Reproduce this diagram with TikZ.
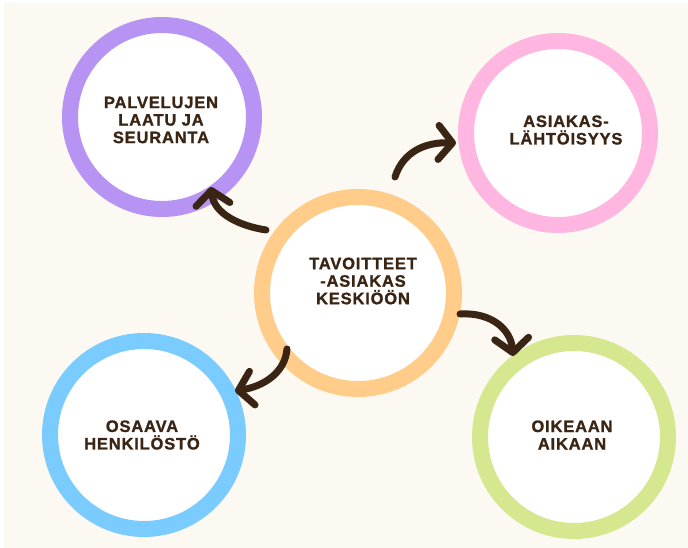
\documentclass[tikz,border=0pt]{standalone}
\usepackage{fontspec}
\setmainfont{Liberation Sans}[LetterSpace=5, BoldFeatures={FakeBold=1.2}]
\usetikzlibrary{arrows.meta}
\definecolor{bgcream}{HTML}{FCF9F2}
\definecolor{inkbrown}{HTML}{3A2413}
\definecolor{ringpurple}{HTML}{B794F4}
\definecolor{ringpink}{HTML}{FFB6E1}
\definecolor{ringorange}{HTML}{FFCC8A}
\definecolor{ringblue}{HTML}{7ACCFF}
\definecolor{ringgreen}{HTML}{D5E78F}
\tikzset{
  ring/.style={circle, draw=#1, line width=16pt, fill=white, inner sep=0pt},
  label/.style={align=center, text=inkbrown, font=\bfseries\fontsize{16.5}{17.5}\selectfont},
  curvearrow/.style={draw=inkbrown, line width=7pt, line cap=round, line join=round,
    -{Straight Barb[length=14pt, width=34pt, line cap=round, line join=round]}}
}
\begin{document}
\begin{tikzpicture}[x=1pt, y=-1pt]
  % page and cream backdrop
  \fill[white] (0,0) rectangle (688,548);
  \fill[bgcream] (4,3) rectangle (688,548);
  \useasboundingbox (0,0) rectangle (688,548);

  % the five rings
  \node[ring=ringpurple, minimum size=184pt] (quality) at (162,117) {};
  \node[ring=ringpink,   minimum size=184pt] (client)  at (558,133) {};
  \node[ring=ringorange, minimum size=192pt] (goal)    at (358,293) {};
  \node[ring=ringblue,   minimum size=188pt] (staff)   at (144,435) {};
  \node[ring=ringgreen,  minimum size=188pt] (timing)  at (574,437) {};

  % ring texts
  \node[label] at (161,120) {PALVELUJEN\\LAATU JA\\SEURANTA};
  \node[label] at (566,130) {ASIAKAS-\\LÄHTÖISYYS};
  \node[label] at (363,281) {TAVOITTEET\\-ASIAKAS\\KESKIÖÖN};
  \node[label] at (142,435) {OSAAVA\\HENKILÖSTÖ};
  \node[label] at (572,435) {OIKEAAN\\AIKAAN};

  % curved arrows from the centre ring to the outer rings
  \coordinate (t1) at (266,230);
  \coordinate (t2) at (395,177);
  \coordinate (t3) at (460,314);
  \coordinate (t4) at (287,349);
  \coordinate (h1) at (211,187);
  \coordinate (h2) at (456,143);
  \coordinate (h3) at (513,356);
  \coordinate (h4) at (235,391);
  \draw[curvearrow] (t1) .. controls (240,226) and (214,214) .. (h1);
  \draw[curvearrow] (t2) .. controls (403,152) and (425,142) .. (h2);
  \draw[curvearrow] (t3) .. controls (492,312) and (511,330) .. (h3);
  \draw[curvearrow] (t4) .. controls (285,372) and (265,386) .. (h4);
\end{tikzpicture}
\end{document}
